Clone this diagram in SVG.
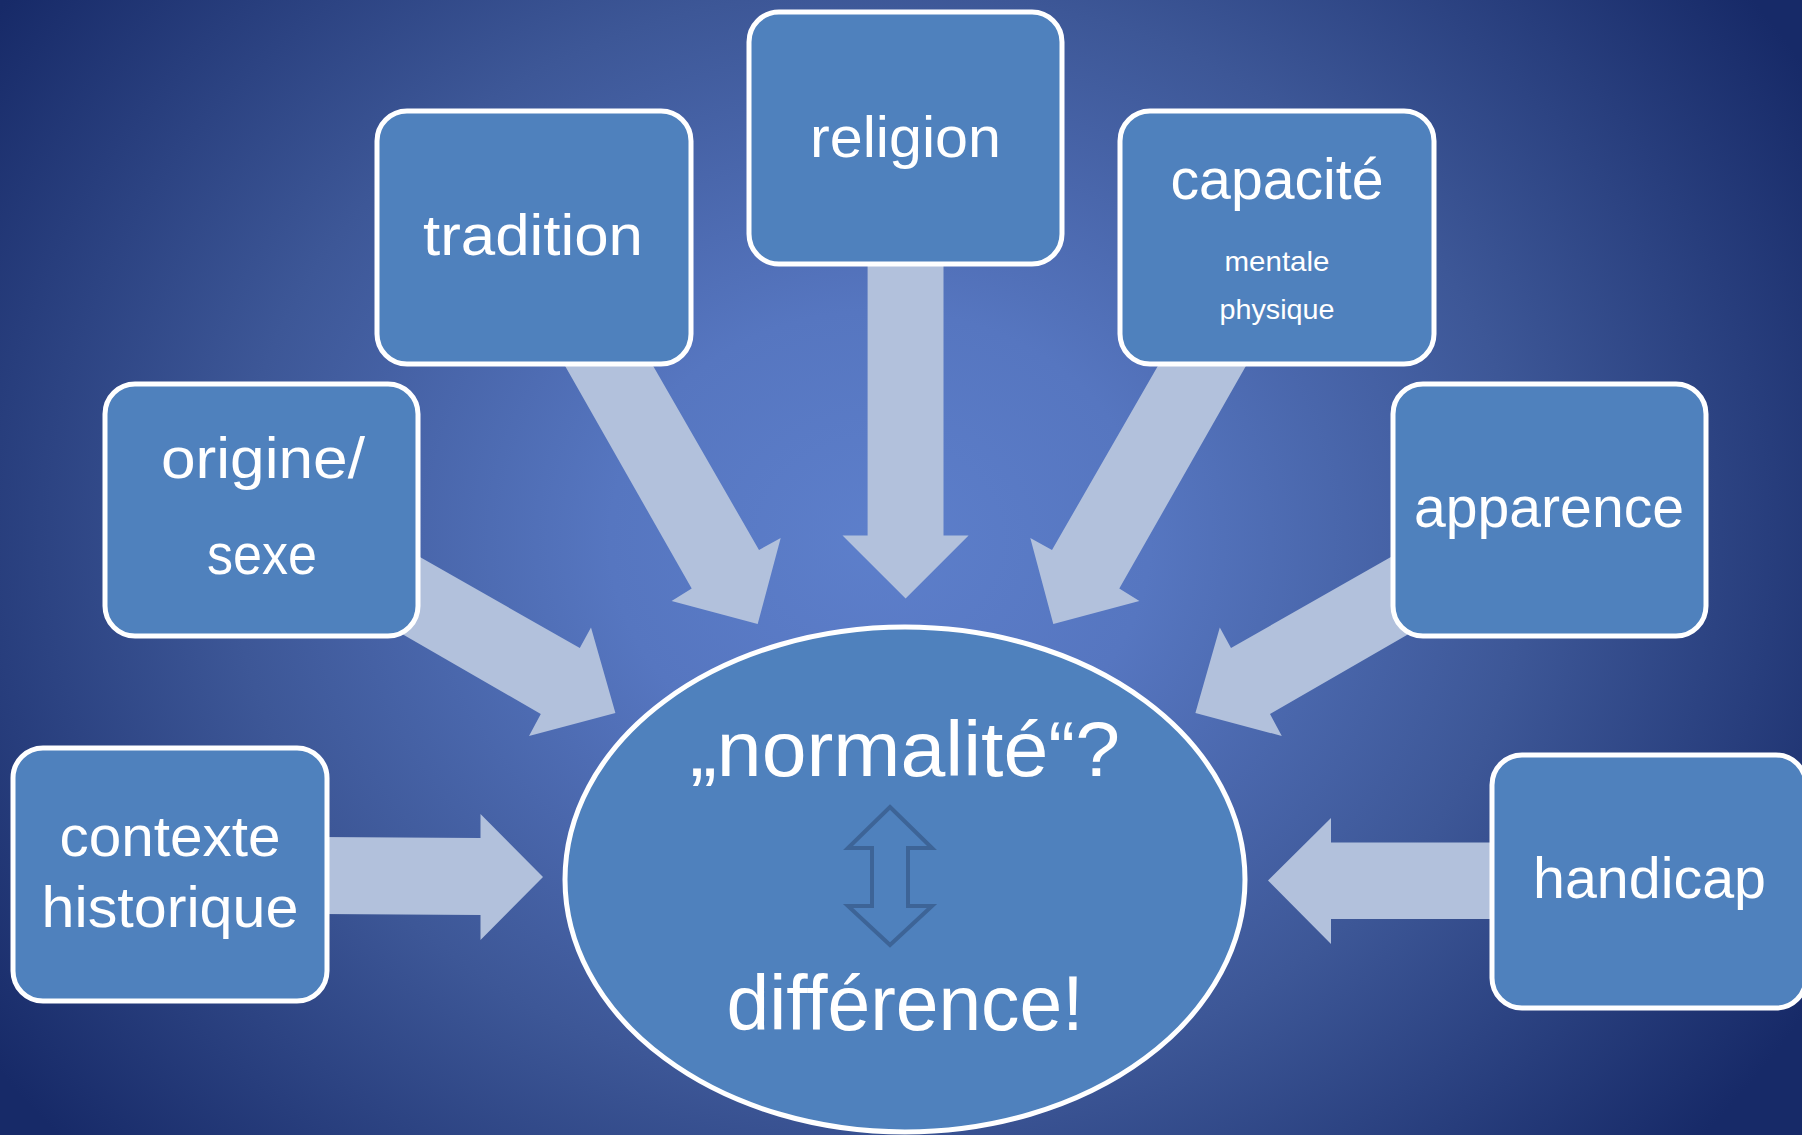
<svg xmlns="http://www.w3.org/2000/svg" width="1802" height="1135" viewBox="0 0 1802 1135">
<defs>
<radialGradient id="bg" gradientUnits="userSpaceOnUse" cx="880" cy="540" r="1080" gradientTransform="translate(880 540) scale(1 0.85) translate(-880 -540)">
<stop offset="0" stop-color="#5D7FCB"/>
<stop offset="0.25" stop-color="#5676C0"/>
<stop offset="0.6" stop-color="#3D5797"/>
<stop offset="1" stop-color="#172A68"/>
</radialGradient>
<style>
.box{fill:#4F81BD;stroke:#FFFFFF;stroke-width:5}
.arr{fill:#B2C1DC}
.t{font-family:"Liberation Sans",Arial,sans-serif;fill:#FFFFFF;text-anchor:middle}
.big{font-size:58px}
.small{font-size:28px}
.center{font-size:78px}
.dbl{fill:none;stroke:#3D6497;stroke-width:4;stroke-linejoin:miter}
</style>
</defs>
<rect x="0" y="0" width="1802" height="1135" fill="url(#bg)"/>
<g id="connectors">
<polygon class="arr" points="320,837 480.5,838 480.5,814 543,877 480.5,940 480.5,915 320,914"/>
<polygon class="arr" points="1500,842.5 1331,842.5 1331,818 1268,880.5 1331,944 1331,919 1500,919"/>
<polygon class="arr" points="867.6,255 943.5,255 943.5,535.5 968.6,535.5 905.6,598.6 842.5,535.5 867.6,535.5"/>
<polygon class="arr" points="560,357 648,357 759,550 780.7,538 757.7,624 671.6,601 691.7,588.6"/>
<polygon class="arr" points="1251,357 1163,357 1052,550 1030.3,538 1053.3,624 1139.4,601 1119.3,588.6"/>
<polygon class="arr" points="390,540 579.8,648 591,627.5 615.4,713 529,736 540.8,714 390,627"/>
<polygon class="arr" points="1420.8,540 1231,648 1219.8,627.5 1195.4,713 1281.8,736 1270,714 1420.8,627"/>
</g>
<g id="node-religion">
<rect class="box" x="749" y="12" width="313" height="252" rx="30"/>
<text class="t big" x="905.5" y="157" textLength="191" lengthAdjust="spacingAndGlyphs">religion</text>
</g>
<g id="node-tradition">
<rect class="box" x="377" y="111" width="314" height="253" rx="30"/>
<text class="t big" x="533" y="255" textLength="220" lengthAdjust="spacingAndGlyphs">tradition</text>
</g>
<g id="node-capacite">
<rect class="box" x="1120" y="111" width="314" height="253" rx="30"/>
<text class="t big" x="1277" y="199" textLength="213" lengthAdjust="spacingAndGlyphs">capacité</text>
<text class="t small" x="1277" y="271" textLength="105" lengthAdjust="spacingAndGlyphs">mentale</text>
<text class="t small" x="1277" y="319" textLength="115" lengthAdjust="spacingAndGlyphs">physique</text>
</g>
<g id="node-origine">
<rect class="box" x="105" y="384" width="313" height="252" rx="30"/>
<text class="t big" x="263" y="478" textLength="204" lengthAdjust="spacingAndGlyphs">origine/</text>
<text class="t big" x="262" y="574" textLength="110" lengthAdjust="spacingAndGlyphs">sexe</text>
</g>
<g id="node-apparence">
<rect class="box" x="1393" y="384" width="313" height="252" rx="30"/>
<text class="t big" x="1549" y="527" textLength="270" lengthAdjust="spacingAndGlyphs">apparence</text>
</g>
<g id="node-contexte">
<rect class="box" x="13" y="748" width="314" height="253" rx="30"/>
<text class="t big" x="170" y="856" textLength="221" lengthAdjust="spacingAndGlyphs">contexte</text>
<text class="t big" x="170" y="927" textLength="257" lengthAdjust="spacingAndGlyphs">historique</text>
</g>
<g id="node-handicap">
<rect class="box" x="1492" y="755" width="314" height="253" rx="30"/>
<text class="t big" x="1649.5" y="898" textLength="233" lengthAdjust="spacingAndGlyphs">handicap</text>
</g>
<g id="node-center">
<ellipse class="box" cx="905" cy="879.5" rx="340" ry="252.5"/>
<text class="t center" x="905" y="776" textLength="430" lengthAdjust="spacingAndGlyphs">„normalité“?</text>
<polygon class="dbl" points="890,807 932,848 908,848 908,906 932,906 890,945 848,906 872,906 872,848 848,848"/>
<text class="t center" x="905" y="1030" textLength="357" lengthAdjust="spacingAndGlyphs">différence!</text>
</g>
</svg>
